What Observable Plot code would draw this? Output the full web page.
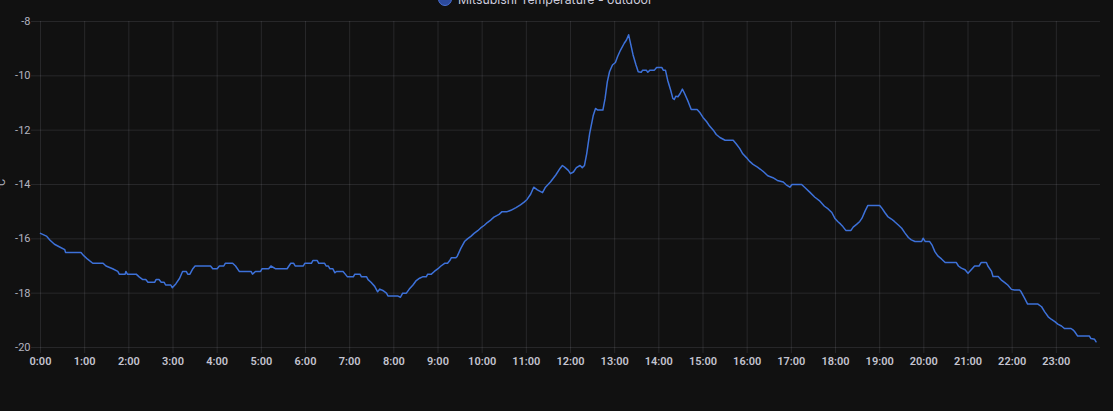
<!DOCTYPE html>
<html>
<head>
<meta charset="utf-8">
<script src="https://cdn.jsdelivr.net/npm/d3@7"></script>
<script src="https://cdn.jsdelivr.net/npm/@observablehq/plot@0.6"></script>
<style>
html, body { margin: 0; padding: 0; background: #111111; overflow: hidden; }
#wrap { position: relative; width: 1113px; height: 411px; overflow: hidden; background: #111111; }
#legend { position: absolute; left: 438px; top: -9px; height: 16px; display: flex; align-items: center;
  font: 12.3px Inter, Roboto, sans-serif; color: #ccccdc; white-space: nowrap; z-index: 2; }
#legend .dot { width: 14px; height: 14px; border-radius: 50%; background: #2c4a9c; border: 1.5px solid #4a70d4;
  box-sizing: border-box; margin-right: 6px; }
#chart { position: absolute; left: 0; top: 0; }
</style>
</head>
<body>
<div id="wrap">
  <div id="legend"><span class="dot"></span><span>Mitsubishi Temperature - outdoor</span></div>
  <div id="chart"></div>
</div>
<script>
const seriesName = "Mitsubishi Temperature - outdoor";
const unitLabel = "°C";

const tickLabels = ["0:00","1:00","2:00","3:00","4:00","5:00","6:00","7:00","8:00","9:00","10:00","11:00",
  "12:00","13:00","14:00","15:00","16:00","17:00","18:00","19:00","20:00","21:00","22:00","23:00"];
const yTicks = [-8, -10, -12, -14, -16, -18, -20];

const times = [
 "0:00","0:08","0:13","0:19","0:26","0:33","0:34","0:55","0:58","1:04","1:11","1:25","1:29","1:38","1:45","1:47","1:55","1:56","1:58","2:10","2:14","2:19","2:23","2:26","2:35","2:37","2:41","2:44","2:48","2:50","2:57","2:59",
 "3:04","3:09","3:13","3:18","3:20","3:23","3:27","3:30","3:51","3:54","4:00","4:03","4:09","4:11","4:21","4:25","4:30","4:46","4:48","4:52","4:59","5:01","5:10","5:13","5:19","5:35","5:40","5:44","5:46",
 "5:57","5:59","6:08","6:10","6:16","6:18","6:26","6:28","6:31","6:33","6:37","6:40","6:42","6:51","6:54","6:57","7:05","7:07","7:14","7:16","7:23","7:25","7:29","7:34","7:38","7:41","7:45","7:50","7:52","8:05","8:09","8:12","8:17","8:21","8:26","8:30","8:35","8:39","8:44","8:46","8:51","8:55",
 "9:00","9:04","9:09","9:13","9:16","9:18","9:24","9:26","9:31","9:36","9:40","9:45","9:49","9:54","9:58","10:03","10:07","10:12","10:16","10:23","10:27","10:34","10:39","10:46","10:52","10:57","11:01","11:06","11:10","11:15","11:22","11:26","11:33","11:40","11:46",
 "11:49","11:52","11:57","12:00","12:04","12:08","12:13","12:16","12:19","12:22","12:26","12:31","12:34","12:37","12:44","12:47","12:50","12:53","12:57","13:01","13:04","13:08","13:13","13:16","13:19","13:22","13:25","13:29","13:32","13:36","13:38","13:43","13:45","13:48","13:54","13:57","14:04","14:06","14:09","14:12","14:16","14:19","14:21","14:23","14:26","14:29","14:32","14:35","14:40","14:44","14:52","14:56",
 "15:00","15:05","15:09","15:14","15:18","15:23","15:30","15:41","15:45","15:50","15:54","15:59","16:03","16:08","16:14","16:18","16:23","16:28","16:35","16:41","16:49","16:53","16:58","17:01","17:14","17:18","17:25","17:32","17:38","17:45","17:50",
 "17:55","17:59","18:03","18:07","18:10","18:14","18:21","18:24","18:29","18:33","18:36","18:40","18:44","19:00","19:03","19:07","19:11","19:16","19:20","19:25","19:30","19:34","19:39","19:43","19:48","19:57","19:59","20:02","20:08","20:11","20:15","20:19","20:24","20:29","20:44","20:47","20:51","20:56",
 "21:00","21:05","21:09","21:15","21:18","21:25","21:27","21:32","21:34","21:41","21:45","21:50","21:54","21:59","22:03","22:10","22:12","22:17","22:21","22:35","22:40","22:44","22:49","22:53","22:58","23:02","23:07","23:11","23:20","23:23","23:25","23:29","23:45","23:47","23:52","23:54"
];
const temps = [
 -15.8,-15.9,-16.05,-16.2,-16.3,-16.4,-16.5,-16.5,-16.6,-16.75,-16.9,-16.9,-17.0,-17.1,-17.2,-17.3,-17.3,-17.2,-17.3,-17.3,-17.4,-17.5,-17.5,-17.6,-17.6,-17.5,-17.5,-17.6,-17.6,-17.7,-17.7,-17.8,
 -17.65,-17.45,-17.2,-17.2,-17.3,-17.3,-17.1,-17.0,-17.0,-17.1,-17.1,-17.0,-17.0,-16.9,-16.9,-17.0,-17.2,-17.2,-17.3,-17.2,-17.2,-17.1,-17.1,-17.0,-17.1,-17.1,-16.9,-16.9,-17.0,
 -17.0,-16.9,-16.9,-16.8,-16.8,-16.9,-16.9,-17.0,-17.0,-17.1,-17.1,-17.25,-17.2,-17.2,-17.3,-17.4,-17.4,-17.3,-17.3,-17.4,-17.4,-17.5,-17.6,-17.75,-17.95,-17.85,-17.9,-18.0,-18.1,-18.1,-18.15,-18.0,-18.0,-17.85,-17.7,-17.55,-17.45,-17.4,-17.4,-17.3,-17.3,-17.2,
 -17.1,-17.0,-16.9,-16.9,-16.8,-16.7,-16.7,-16.65,-16.35,-16.1,-16.0,-15.9,-15.8,-15.7,-15.6,-15.5,-15.4,-15.3,-15.2,-15.1,-15.0,-15.0,-14.95,-14.85,-14.75,-14.65,-14.55,-14.35,-14.1,-14.2,-14.3,-14.1,-13.9,-13.65,-13.4,
 -13.3,-13.36,-13.48,-13.6,-13.54,-13.38,-13.3,-13.38,-13.3,-12.87,-12.13,-11.45,-11.2,-11.26,-11.26,-10.83,-10.22,-9.85,-9.6,-9.51,-9.29,-9.05,-8.8,-8.68,-8.49,-8.86,-9.23,-9.6,-9.85,-9.87,-9.79,-9.79,-9.87,-9.79,-9.79,-9.69,-9.69,-9.79,-9.79,-10.16,-10.52,-10.83,-10.87,-10.75,-10.77,-10.65,-10.49,-10.65,-10.96,-11.24,-11.24,-11.36,
 -11.53,-11.69,-11.85,-12.0,-12.16,-12.27,-12.37,-12.37,-12.5,-12.68,-12.87,-13.01,-13.14,-13.26,-13.36,-13.44,-13.55,-13.68,-13.75,-13.85,-13.91,-14.01,-14.1,-14.0,-14.0,-14.1,-14.28,-14.47,-14.59,-14.8,-14.9,
 -15.03,-15.24,-15.36,-15.46,-15.55,-15.69,-15.69,-15.57,-15.46,-15.36,-15.24,-14.99,-14.77,-14.77,-14.87,-15.03,-15.18,-15.27,-15.36,-15.48,-15.61,-15.77,-15.95,-16.04,-16.1,-16.1,-15.98,-16.1,-16.1,-16.22,-16.47,-16.63,-16.74,-16.87,-16.87,-17.0,-17.08,-17.14,
 -17.27,-17.12,-17.0,-17.0,-16.87,-16.87,-17.0,-17.2,-17.39,-17.39,-17.51,-17.61,-17.7,-17.86,-17.88,-17.88,-17.94,-18.19,-18.4,-18.4,-18.5,-18.68,-18.87,-18.96,-19.05,-19.14,-19.21,-19.3,-19.3,-19.36,-19.42,-19.58,-19.58,-19.67,-19.7,-19.79
];

const toDate = s => { const [h, m] = s.split(":").map(Number); return new Date(Date.UTC(2024, 0, 1, h, m)); };
const data = times.map((t, i) => ({time: toDate(t), temp: temps[i]}));
const xTicks = tickLabels.map(toDate);
const gridColor = "#ccccdc";

const chart = Plot.plot({
  width: 1113,
  height: 411,
  marginTop: 21,
  marginBottom: 64,
  marginLeft: 40,
  marginRight: 13,
  style: {background: "#111111", color: "#ccccdc", fontFamily: "Roboto, sans-serif", fontSize: "11px", overflow: "visible"},
  x: {type: "utc", domain: [toDate("0:00"), toDate("24:00")]},
  y: {domain: [-20, -8]},
  marks: [
    Plot.gridY(yTicks, {stroke: gridColor, strokeOpacity: 0.12, strokeWidth: 1}),
    Plot.gridX(xTicks, {stroke: gridColor, strokeOpacity: 0.12, strokeWidth: 1}),
    Plot.axisY(yTicks, {tickSize: 9, tickPadding: 1, stroke: gridColor, strokeOpacity: 0.12, fill: "#b4b4c0",
      tickFormat: d => `${d}`, label: unitLabel, labelAnchor: "center", labelOffset: 43, labelArrow: "none", fontSize: 11}),
    Plot.axisX(xTicks, {tickSize: 6, tickPadding: 4, stroke: gridColor, strokeOpacity: 0.12, fill: "#c4c4d0",
      tickFormat: (d, i) => tickLabels[i], label: null, fontWeight: 600, fontSize: 11}),
    Plot.lineY(data, {x: "time", y: "temp", stroke: "#3d71d9", strokeWidth: 1.5})
  ]
});
document.getElementById("chart").appendChild(chart);
</script>
</body>
</html>
